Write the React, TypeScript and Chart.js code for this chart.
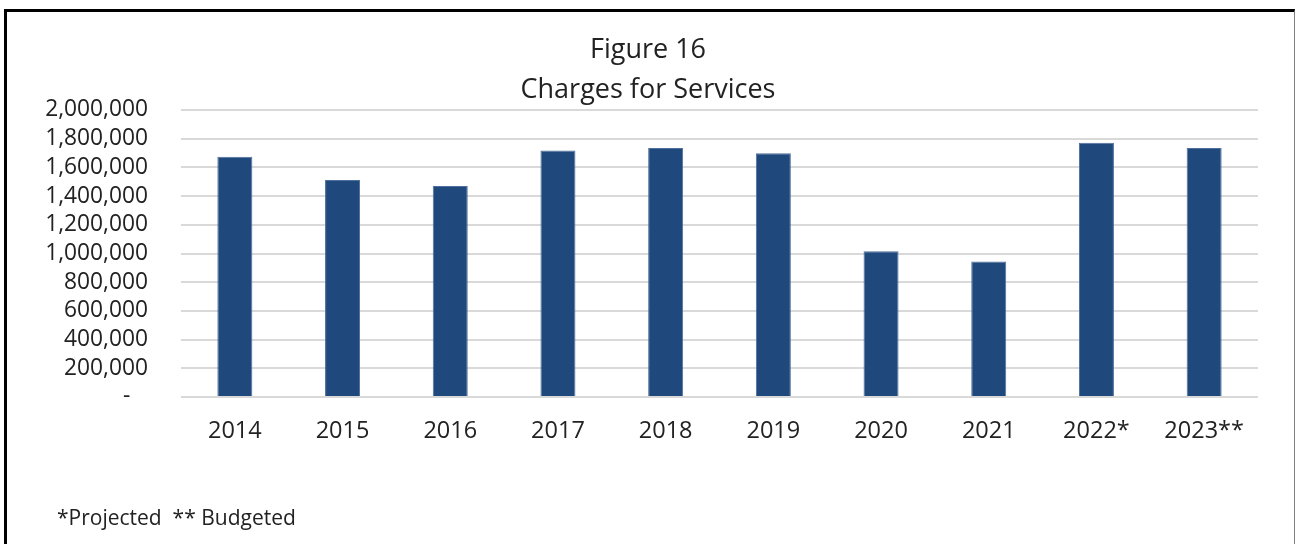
import React, { useEffect, useRef } from "react";
import { Chart, registerables } from "chart.js";

Chart.register(...registerables);

const categories = ["2014", "2015", "2016", "2017", "2018", "2019", "2020", "2021", "2022*", "2023**"];
const chargesForServices = [1674000, 1512000, 1471000, 1717000, 1736000, 1699000, 1016000, 944000, 1771000, 1736000];
const titleLines = ["Figure 16", "Charges for Services"];
const footnote = "*Projected  ** Budgeted";
const yMax = 2000000;
const yStep = 200000;

const FONT = "'Open Sans', 'Noto Sans', sans-serif";
const TEXT = "#222222";

export default function App() {
  const canvasRef = useRef<HTMLCanvasElement | null>(null);

  useEffect(() => {
    const canvas = canvasRef.current;
    if (!canvas) return;
    const chart = new Chart(canvas, {
      type: "bar",
      data: {
        labels: categories,
        datasets: [
          {
            label: "Charges for Services",
            data: chargesForServices,
            backgroundColor: "#1F497D",
            borderColor: "#4f6f9c",
            borderWidth: 1,
            barPercentage: 0.325,
            categoryPercentage: 1,
            yAxisID: "y",
          },
        ],
      },
      options: {
        animation: false,
        responsive: false,
        maintainAspectRatio: false,
        layout: { padding: 0 },
        plugins: {
          legend: { display: false },
          tooltip: { enabled: false },
          title: {
            display: true,
            text: titleLines,
            color: TEXT,
            font: { family: FONT, size: 27, weight: "normal", lineHeight: "40px" },
            padding: { top: 30, bottom: 0 },
          },
        },
        scales: {
          x: {
            grid: { display: false, drawTicks: false },
            border: { display: false },
            ticks: {
              color: TEXT,
              font: { family: FONT, size: 23.5 },
              padding: 20,
              maxRotation: 0,
              autoSkip: false,
            },
            afterFit: (scale: any) => {
              scale.height = 147;
            },
          },
          y: {
            min: 0,
            max: yMax,
            grid: { color: "#d9d9d9", lineWidth: 2, drawTicks: false },
            border: { display: false },
            ticks: {
              stepSize: yStep,
              autoSkip: false,
              color: TEXT,
              font: { family: FONT, size: 22.75, lineHeight: 1 },
              padding: 33,
              callback: (v: any) => (Number(v) === 0 ? "-   " : Number(v).toLocaleString("en-US")),
            },
            afterFit: (scale: any) => {
              scale.width = 181;
            },
          },
          yRightSpacer: {
            position: "right",
            min: 0,
            max: yMax,
            grid: { display: false, drawTicks: false },
            border: { display: false },
            ticks: { display: false },
            afterFit: (scale: any) => {
              scale.width = 38;
            },
          },
        },
      },
    });
    return () => chart.destroy();
  }, []);

  return (
    <div style={{ position: "fixed", left: 0, top: 0, width: 1296, height: 544, background: "#fff", overflow: "hidden" }}>
      <div
        style={{
          position: "absolute",
          left: 4,
          top: 9,
          width: 1291,
          height: 600,
          borderTop: "3px solid #000",
          borderLeft: "3px solid #000",
          borderRight: "1px solid #7f7f7f",
          boxSizing: "border-box",
        }}
      />
      <canvas ref={canvasRef} width={1296} height={544} style={{ position: "absolute", left: 0, top: 0 }} />
      <div
        style={{
          position: "absolute",
          left: 57,
          top: 502,
          fontFamily: FONT,
          fontSize: 21,
          color: TEXT,
          whiteSpace: "pre",
          lineHeight: "30px",
        }}
      >
        {footnote}
      </div>
    </div>
  );
}
